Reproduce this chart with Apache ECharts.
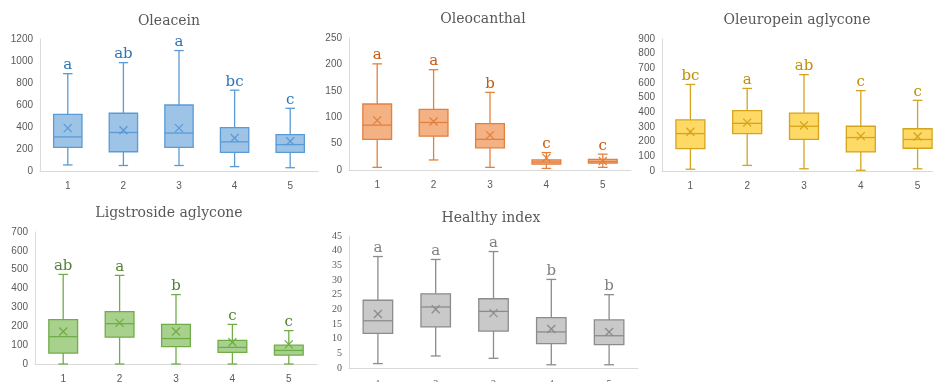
<!DOCTYPE html>
<html><head><meta charset="utf-8">
<script src="https://cdn.jsdelivr.net/npm/echarts@6/dist/echarts.min.js"></script>
<style>html,body{margin:0;padding:0;background:#fff}#c{width:933px;height:382px}</style>
</head><body><div id="c"></div>
<script>
// ---- data ----
const categories = ['1', '2', '3', '4', '5'];

const titles = ['Oleacein', 'Oleocanthal', 'Oleuropein aglycone', 'Ligstroside aglycone', 'Healthy index'];

// Oleacein
const oleaceinMin    = [55, 50, 50, 40, 30];
const oleaceinQ1     = [215, 175, 215, 170, 170];
const oleaceinMedian = [310, 350, 345, 265, 240];
const oleaceinQ3     = [515, 525, 600, 395, 330];
const oleaceinMax    = [885, 985, 1095, 735, 570];
const oleaceinMean   = [390, 370, 390, 300, 270];
const oleaceinLetters = ['a', 'ab', 'a', 'bc', 'c'];

// Oleocanthal
const oleocanthalMin    = [5, 19, 5, 3, 5];
const oleocanthalQ1     = [58, 64, 42, 11, 13];
const oleocanthalMedian = [85, 90, 58, 15, 16];
const oleocanthalQ3     = [125, 115, 88, 19, 20];
const oleocanthalMax    = [201, 190, 147, 33, 30];
const oleocanthalMean   = [94, 92, 66, 23, 17];
const oleocanthalLetters = ['a', 'a', 'b', 'c', 'c'];

// Oleuropein aglycone
const oleuropeinMin    = [12, 38, 15, 5, 15];
const oleuropeinQ1     = [152, 255, 215, 130, 155];
const oleuropeinMedian = [255, 325, 305, 228, 215];
const oleuropeinQ3     = [348, 412, 395, 305, 288];
const oleuropeinMax    = [590, 563, 657, 548, 482];
const oleuropeinMean   = [268, 330, 310, 238, 235];
const oleuropeinLetters = ['bc', 'a', 'ab', 'c', 'c'];

// Ligstroside aglycone
const ligstrosideMin    = [0, 0, 0, 0, 0];
const ligstrosideQ1     = [58, 142, 92, 62, 47];
const ligstrosideMedian = [145, 214, 135, 88, 72];
const ligstrosideQ3     = [235, 278, 210, 125, 100];
const ligstrosideMax    = [475, 470, 368, 210, 177];
const ligstrosideMean   = [172, 218, 172, 115, 104];
const ligstrosideLetters = ['ab', 'a', 'b', 'c', 'c'];

// Healthy index
const healthyMin    = [1.5, 4.1, 3.3, 1.1, 1.1];
const healthyQ1     = [11.8, 14.0, 12.6, 8.3, 8.0];
const healthyMedian = [16.1, 20.8, 19.3, 12.3, 11.0];
const healthyQ3     = [23.1, 25.3, 23.6, 17.2, 16.4];
const healthyMax    = [38.0, 37.0, 39.7, 30.2, 25.0];
const healthyMean   = [18.4, 20.0, 18.7, 13.3, 12.3];
const healthyLetters = ['a', 'a', 'a', 'b', 'b'];

// y axis ticks
const yMax      = [1200, 250, 900, 700, 45];
const yInterval = [200, 50, 100, 100, 5];

// ---- layout & style ----
const panels = [
  {min: oleaceinMin, q1: oleaceinQ1, med: oleaceinMedian, q3: oleaceinQ3, max: oleaceinMax, mean: oleaceinMean, letters: oleaceinLetters,
   grid: {left: 40, top: 39, width: 278, height: 132}, title: [164, 9], xMargin: 10,
   fill: '#9DC3E6', stroke: '#5B9BD5', letter: '#2E75B6', labelFont: 'Liberation Sans'},
  {min: oleocanthalMin, q1: oleocanthalQ1, med: oleocanthalMedian, q3: oleocanthalQ3, max: oleocanthalMax, mean: oleocanthalMean, letters: oleocanthalLetters,
   grid: {left: 349, top: 38, width: 282, height: 132}, title: [478, 7], xMargin: 10,
   fill: '#F4B183', stroke: '#E2803F', letter: '#C55A11', labelFont: 'Liberation Sans'},
  {min: oleuropeinMin, q1: oleuropeinQ1, med: oleuropeinMedian, q3: oleuropeinQ3, max: oleuropeinMax, mean: oleuropeinMean, letters: oleuropeinLetters,
   grid: {left: 662, top: 39, width: 284, height: 132}, title: [792, 8], xMargin: 10,
   fill: '#FFD966', stroke: '#D4A51C', letter: '#BF9000', labelFont: 'Liberation Sans'},
  {min: ligstrosideMin, q1: ligstrosideQ1, med: ligstrosideMedian, q3: ligstrosideQ3, max: ligstrosideMax, mean: ligstrosideMean, letters: ligstrosideLetters,
   grid: {left: 35, top: 232, width: 282, height: 132}, title: [164, 201], xMargin: 10,
   fill: '#A9D18E', stroke: '#70AD47', letter: '#548235', labelFont: 'Liberation Sans'},
  {min: healthyMin, q1: healthyQ1, med: healthyMedian, q3: healthyQ3, max: healthyMax, mean: healthyMean, letters: healthyLetters,
   grid: {left: 349, top: 236, width: 289, height: 132}, title: [486, 206], xMargin: 11,
   fill: '#C9C9C9', stroke: '#8C8C8C', letter: '#7F7F7F', labelFont: 'Liberation Serif'}
];

function makeRender(p) {
  return function (params, api) {
    const i = api.value(0);
    const lo = api.value(1), q1 = api.value(2), med = api.value(3), q3 = api.value(4), hi = api.value(5), mean = api.value(6);
    const band = api.size([1, 0])[0];
    const bw = band * 0.51, cw = band * 0.17, xs = 4;
    const cx = api.coord([i, 0])[0];
    const yLo = api.coord([i, lo])[1], yQ1 = api.coord([i, q1])[1], yMed = api.coord([i, med])[1];
    const yQ3 = api.coord([i, q3])[1], yHi = api.coord([i, hi])[1], yMean = api.coord([i, mean])[1];
    const ls = {stroke: p.stroke, lineWidth: 1.3, fill: null};
    return {
      type: 'group',
      children: [
        {type: 'line', shape: {x1: cx, y1: yHi, x2: cx, y2: yQ3}, style: ls},
        {type: 'line', shape: {x1: cx, y1: yQ1, x2: cx, y2: yLo}, style: ls},
        {type: 'line', shape: {x1: cx - cw / 2, y1: yHi, x2: cx + cw / 2, y2: yHi}, style: ls},
        {type: 'line', shape: {x1: cx - cw / 2, y1: yLo, x2: cx + cw / 2, y2: yLo}, style: ls},
        {type: 'rect', shape: {x: cx - bw / 2, y: yQ3, width: bw, height: yQ1 - yQ3},
         style: {fill: p.fill, stroke: p.stroke, lineWidth: 1.3}},
        {type: 'line', shape: {x1: cx - bw / 2, y1: yMed, x2: cx + bw / 2, y2: yMed}, style: ls},
        {type: 'line', shape: {x1: cx - xs, y1: yMean - xs, x2: cx + xs, y2: yMean + xs}, style: ls},
        {type: 'line', shape: {x1: cx - xs, y1: yMean + xs, x2: cx + xs, y2: yMean - xs}, style: ls},
        {type: 'text', x: cx, y: yHi - 1,
         style: {text: p.letters[params.dataIndex], fill: p.letter, font: '15px "DejaVu Serif"',
                 textAlign: 'center', textVerticalAlign: 'bottom', align: 'center', verticalAlign: 'bottom'}}
      ]
    };
  };
}

const option = {
  animation: false,
  title: [], grid: [], xAxis: [], yAxis: [], series: []
};

panels.forEach(function (p, k) {
  option.title.push({
    text: titles[k], left: p.title[0], top: p.title[1], textAlign: 'center',
    textStyle: {fontFamily: 'DejaVu Serif', fontSize: 14, fontWeight: 'normal', color: '#595959'}
  });
  option.grid.push(Object.assign({containLabel: false, outerBoundsMode: 'none'}, p.grid));
  option.xAxis.push({
    type: 'category', gridIndex: k, data: categories,
    axisLine: {lineStyle: {color: '#D9D9D9', width: 1}}, axisTick: {show: false},
    axisLabel: {color: '#595959', fontFamily: p.labelFont, fontSize: 10, margin: p.xMargin}
  });
  option.yAxis.push({
    type: 'value', gridIndex: k, min: 0, max: yMax[k], interval: yInterval[k],
    axisLine: {show: true, lineStyle: {color: '#D9D9D9', width: 1}}, axisTick: {show: false},
    splitLine: {show: false},
    axisLabel: {color: '#595959', fontFamily: p.labelFont, fontSize: 10, margin: 7,
                formatter: function (v) { return String(v); }}
  });
  const data = categories.map(function (c, i) {
    return [i, p.min[i], p.q1[i], p.med[i], p.q3[i], p.max[i], p.mean[i]];
  });
  option.series.push({
    type: 'custom', xAxisIndex: k, yAxisIndex: k, data: data,
    encode: {x: 0, y: [1, 2, 3, 4, 5, 6]},
    renderItem: makeRender(p), clip: false
  });
});

const chart = echarts.init(document.getElementById('c'), null, {renderer: 'canvas'});
chart.setOption(option);
</script>
</body></html>
